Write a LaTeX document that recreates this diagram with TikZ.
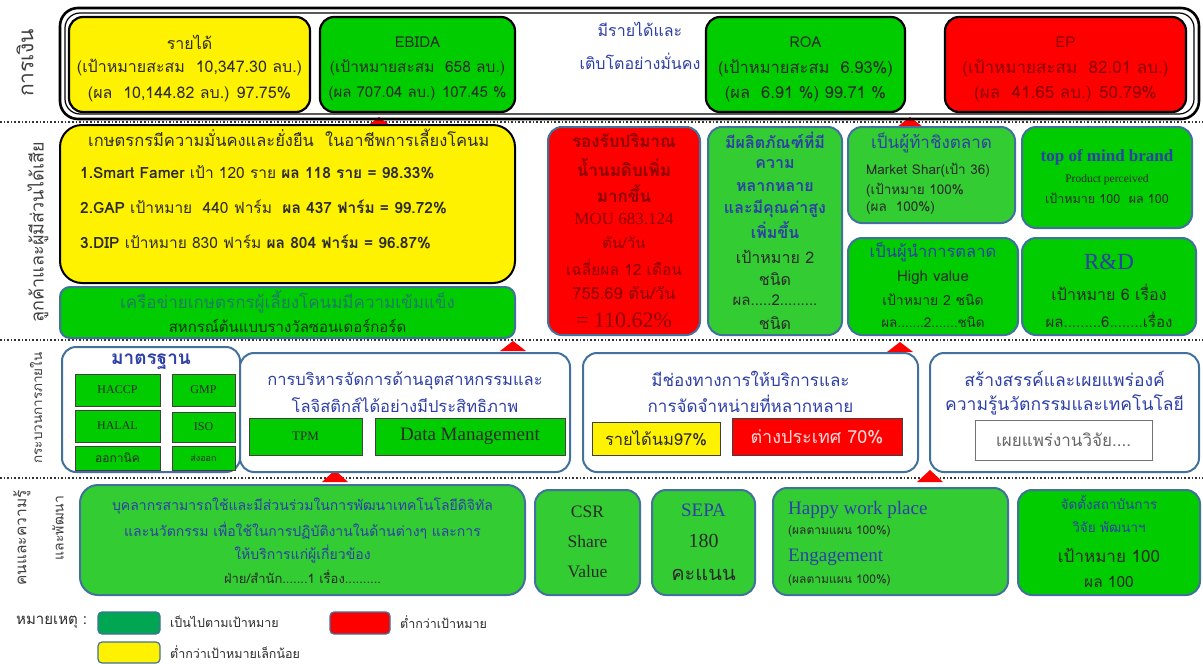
\documentclass[tikz,border=0pt]{standalone}
\usepackage{fontspec}
\setmainfont[Script=Thai]{Loma}
\newfontfamily\serifL{Liberation Serif}
\newcommand\fsz[1]{\fontsize{#1}{#1}\selectfont}
% rectangle node from its top-left and bottom-right corners
\newcommand\bx[6]{\node[#6, anchor=north west, inner sep=0pt, outer sep=0pt,
  minimum width={(#4-#2)*1pt}, minimum height={(#5-#3)*1pt}] (#1) at (#2,#3) {};}
\newcommand\marker[3]{\fill[red] (#1-13,#2) -- (#1,#3) -- (#1+13,#2) -- cycle;}
\definecolor{gbright}{HTML}{00CC00}
\definecolor{glight}{HTML}{33CC33}
\definecolor{bord}{HTML}{41719C}
\definecolor{tblue}{HTML}{2E3FA6}
\definecolor{tdark}{HTML}{2B2B2B}
\definecolor{tred}{HTML}{8B0000}
\definecolor{tteal}{HTML}{1E7A66}
\definecolor{legg}{HTML}{00A651}
\tikzset{
  finbox/.style={draw=black, line width=2.2pt, rounded corners=14pt},
  stdbox/.style={draw=bord, line width=2pt, rounded corners=14pt},
  sqbox/.style={draw=black!75, line width=0.8pt},
  sep/.style={dotted, line width=1.6pt, black!80},
  txt/.style={inner sep=0pt, text=tdark},
  lbl/.style={inner sep=0pt, text=black!75, rotate=90},
}
\begin{document}
\begin{tikzpicture}[x=1pt,y=-1pt]
\useasboundingbox (0,0) rectangle (1203,664);
\fill[white] (0,0) rectangle (1203,664);

% perspective separators
\draw[sep] (0,122) -- (1203,122);
\draw[sep] (0,340) -- (1203,340);
\draw[sep] (0,478) -- (1203,478);

% link markers between perspectives
\marker{379}{127}{117}
\marker{910}{127}{117}
\marker{513}{351}{341}
\marker{900}{352}{342}
\marker{335}{482}{470}
\marker{930}{482}{470}

% perspective labels
\node[lbl, font=\fsz{21}] (lfin) at (25,63) {การเงิน};
\node[lbl, font=\fsz{18}] (lcus) at (38,232) {ลูกค้าและผู้มีส่วนได้เสีย};
\node[lbl, font=\fsz{13.5}] (lint) at (36,408) {กระบวนการภายใน};
\node[lbl, font=\fsz{15.5}] (lppl1) at (22,538) {คนและความรู้};
\node[lbl, font=\fsz{14}] (lppl2) at (58,528) {และพัฒนา};

% ---------------- financial ----------------
\bx{finout}{60}{8}{1199}{119}{draw=black, line width=2.6pt, rounded corners=18pt}
\bx{finin}{65}{13}{1194}{114}{draw=black, line width=1.2pt, rounded corners=15pt}

\bx{rev}{69}{17}{310}{112}{finbox, fill=yellow}
\node[txt, font=\fsz{16}] (rev1) at (rev.center |- 0,42) {รายได้};
\node[txt, font=\fsz{16}] (rev2) at (rev.center |- 0,68) {(เป้าหมายสะสม~~10,347.30 ลบ.)};
\node[txt, font=\fsz{16}] (rev3) at (rev.center |- 0,94) {(ผล~~10,144.82 ลบ.) 97.75\%};

\bx{ebida}{320}{17}{515}{112}{finbox, fill=gbright}
\node[txt, font=\fsz{15}] (eb1) at (ebida.center |- 0,42) {EBIDA};
\node[txt, font=\fsz{15.5}] (eb2) at (ebida.center |- 0,68) {(เป้าหมายสะสม~~658 ลบ.)};
\node[txt, font=\fsz{15}] (eb3) at (ebida.center |- 0,94) {(ผล 707.04 ลบ.) 107.45 \%};

\node[txt, text=tblue, font=\fsz{16}] (goal1) at (640,29) {มีรายได้และ};
\node[txt, text=tblue, font=\fsz{16}] (goal2) at (640,61) {เติบโตอย่างมั่นคง};

\bx{roa}{706}{17}{905}{112}{finbox, fill=gbright}
\node[txt, font=\fsz{15}] (roa1) at (roa.center |- 0,42) {ROA};
\node[txt, font=\fsz{16.5}] (roa2) at (roa.center |- 0,68) {(เป้าหมายสะสม~~6.93\%)};
\node[txt, font=\fsz{16.5}] (roa3) at (roa.center |- 0,94) {(ผล~~6.91 \%) 99.71 \%};

\bx{ep}{945}{17}{1186}{112}{finbox, fill=red}
\node[txt, text=tred, font=\fsz{15}] (ep1) at (ep.center |- 0,42) {EP};
\node[txt, text=tred, font=\fsz{17}] (ep2) at (ep.center |- 0,68) {(เป้าหมายสะสม~~82.01 ลบ.)};
\node[txt, text=tred, font=\fsz{17}] (ep3) at (ep.center |- 0,94) {(ผล~~41.65 ลบ.) 50.79\%};

% ---------------- customers ----------------
\bx{farm}{60}{125}{515}{283}{draw=black, line width=2pt, rounded corners=22pt, fill=yellow}
\node[txt, anchor=west, font=\fsz{16.5}] (farm0) at (88,138) {เกษตรกรมีความมั่นคงและยั่งยืน~~ในอาชีพการเลี้ยงโคนม};
\node[txt, anchor=west, font=\fsz{15.5}] (farm1) at (80,172) {\textbf{1.Smart Famer} เป้า 120 ราย \textbf{ผล 118 ราย = 98.33\%}};
\node[txt, anchor=west, font=\fsz{15.5}] (farm2) at (80,207) {\textbf{2.GAP} เป้าหมาย~~440 ฟาร์ม~~\textbf{ผล 437 ฟาร์ม = 99.72\%}};
\node[txt, anchor=west, font=\fsz{15.5}] (farm3) at (80,242) {\textbf{3.DIP} เป้าหมาย 830 ฟาร์ม \textbf{ผล 804 ฟาร์ม = 96.87\%}};

\bx{net}{60}{287}{515}{338}{stdbox, rounded corners=10pt, fill=gbright}
\node[txt, text=tteal, font=\fsz{17}] (net1) at (net.center |- 0,302) {เครือข่ายเกษตรกรผู้เลี้ยงโคนมมีความเข้มแข็ง};
\node[txt, text=black!80!green, font=\fsz{15}] (net2) at (net.center |- 0,326) {สหกรณ์ต้นแบบรางวัลซอนเดอร์กอร์ด};

\bx{milk}{548}{127}{700}{335}{stdbox, fill=red}
\node[txt, text=tred, font=\bfseries\fsz{17}] (mk1) at (milk.center |- 0,141) {รองรับปริมาณ};
\node[txt, text=tred, font=\bfseries\fsz{17}] (mk2) at (milk.center |- 0,168) {น้ำนมดิบเพิ่ม};
\node[txt, text=tred, font=\bfseries\fsz{17}] (mk3) at (milk.center |- 0,194) {มากขึ้น};
\node[txt, text=tred, font=\serifL\fsz{17}] (mk4) at (milk.center |- 0,219) {MOU 683.124};
\node[txt, text=tred, font=\fsz{15}] (mk5) at (milk.center |- 0,243) {ตัน/วัน};
\node[txt, text=tred, font=\fsz{15.5}] (mk6) at (milk.center |- 0,268) {เฉลี่ยผล 12 เดือน};
\node[txt, text=tred, font=\fsz{16.5}] (mk7) at (milk.center |- 0,293) {755.69 ตัน/วัน};
\node[txt, text=tred, font=\serifL\fsz{22}] (mk8) at (milk.center |- 0,320) {= 110.62\%};

\bx{prod}{708}{127}{842}{335}{stdbox, fill=glight}
\node[txt, text=tblue, font=\bfseries\fsz{16}] (pd1) at (prod.center |- 0,140) {มีผลิตภัณฑ์ที่มี};
\node[txt, text=tblue, font=\bfseries\fsz{16}] (pd2) at (prod.center |- 0,164) {ความ};
\node[txt, text=tblue, font=\bfseries\fsz{16}] (pd3) at (prod.center |- 0,187) {หลากหลาย};
\node[txt, text=tblue, font=\bfseries\fsz{16}] (pd4) at (prod.center |- 0,209) {และมีคุณค่าสูง};
\node[txt, text=tblue, font=\bfseries\fsz{16}] (pd5) at (prod.center |- 0,230) {เพิ่มขึ้น};
\node[txt, font=\fsz{16}] (pd6) at (prod.center |- 0,257) {เป้าหมาย 2};
\node[txt, font=\fsz{16}] (pd7) at (prod.center |- 0,279) {ชนิด};
\node[txt, font=\fsz{15}] (pd8) at (prod.center |- 0,300) {ผล.....2.........};
\node[txt, font=\fsz{16}] (pd9) at (prod.center |- 0,323) {ชนิด};

\bx{chal}{848}{127}{1015}{223}{stdbox, fill=glight}
\node[txt, text=tblue, font=\fsz{17}] (ch1) at (chal.center |- 0,143) {เป็นผู้ท้าชิงตลาด};
\node[txt, anchor=west, font=\fsz{13.5}] (ch2) at (866,170) {Market Shar(เป้า 36)};
\node[txt, anchor=west, font=\fsz{13.5}] (ch3) at (866,190) {(เป้าหมาย 100\%};
\node[txt, anchor=west, font=\fsz{13.5}] (ch4) at (866,208) {(ผล~~100\%)};

\bx{tom}{1022}{127}{1192}{228}{stdbox, fill=gbright}
\node[txt, text=tblue, font=\serifL\bfseries\fsz{17}] (tm1) at (tom.center |- 0,157) {top of mind brand};
\node[txt, font=\serifL\fsz{11.5}] (tm2) at (tom.center |- 0,180) {Product perceived};
\node[txt, font=\fsz{12.5}] (tm3) at (tom.center |- 0,198) {เป้าหมาย 100~~ผล 100};

\bx{lead}{848}{238}{1018}{335}{stdbox, fill=gbright}
\node[txt, text=tblue, font=\fsz{16.5}] (ld1) at (lead.center |- 0,252) {เป็นผู้นำการตลาด};
\node[txt, font=\fsz{15}] (ld2) at (lead.center |- 0,278) {High value};
\node[txt, font=\fsz{14}] (ld3) at (lead.center |- 0,300) {เป้าหมาย 2 ชนิด};
\node[txt, font=\fsz{13.5}] (ld4) at (lead.center |- 0,322) {ผล.......2.......ชนิด};

\bx{rnd}{1022}{238}{1196}{335}{stdbox, fill=gbright}
\node[txt, text=tblue, font=\serifL\fsz{23}] (rd1) at (rnd.center |- 0,262) {R\&D};
\node[txt, font=\fsz{16}] (rd2) at (rnd.center |- 0,292) {เป้าหมาย 6 เรื่อง};
\node[txt, font=\fsz{15}] (rd3) at (rnd.center |- 0,320) {ผล.........6........เรื่อง};

% ---------------- internal processes ----------------
\bx{std}{62}{347}{240}{472}{stdbox, fill=white}
\node[txt, text=tblue, font=\bfseries\fsz{19}] (st0) at (std.center |- 0,362) {มาตรฐาน};
\bx{haccp}{75}{374}{160}{406}{sqbox, fill=gbright}
\bx{gmp}{172}{374}{235}{406}{sqbox, fill=gbright}
\bx{halal}{75}{410}{160}{442}{sqbox, fill=gbright}
\bx{iso}{172}{412}{235}{442}{sqbox, fill=gbright}
\bx{org}{75}{446}{160}{470}{sqbox, fill=gbright}
\bx{exp}{172}{446}{235}{470}{sqbox, fill=gbright}
\node[txt, font=\serifL\fsz{12}] (st1) at (haccp) {HACCP};
\node[txt, font=\serifL\fsz{12}] (st2) at (gmp) {GMP};
\node[txt, font=\serifL\fsz{12}] (st3) at (halal) {HALAL};
\node[txt, font=\serifL\fsz{12}] (st4) at (iso) {ISO};
\node[txt, font=\fsz{12}] (st5) at (org) {ออกานิค};
\node[txt, font=\fsz{9}] (st6) at (exp) {ส่งออก};

\bx{mgmt}{240}{353}{570}{472}{stdbox, fill=white}
\node[txt, text=tblue, font=\fsz{16.5}] (mg1) at (mgmt.center |- 0,381) {การบริหารจัดการด้านอุตสาหกรรมและ};
\node[txt, text=tblue, font=\fsz{16.5}] (mg2) at (mgmt.center |- 0,405) {โลจิสติกส์ได้อย่างมีประสิทธิภาพ};
\bx{tpm}{249}{418}{362}{455}{sqbox, fill=gbright}
\bx{dm}{375}{418}{565}{455}{sqbox, fill=gbright}
\node[txt, font=\serifL\fsz{13}] (tp) at (tpm) {TPM};
\node[txt, font=\serifL\fsz{19}] (dmt) at (dm) {Data Management};

\bx{chan}{583}{353}{918}{472}{stdbox, fill=white}
\node[txt, text=tblue, font=\fsz{17}] (cn1) at (chan.center |- 0,379) {มีช่องทางการให้บริการและ};
\node[txt, text=tblue, font=\fsz{17}] (cn2) at (chan.center |- 0,404) {การจัดจำหน่ายที่หลากหลาย};
\bx{milkrev}{592}{422}{720}{455}{sqbox, fill=yellow}
\bx{abroad}{732}{418}{902}{455}{sqbox, fill=red}
\node[txt, font=\fsz{16.5}] (mr) at (milkrev) {รายได้นม97\%};
\node[txt, text=red!15, font=\fsz{18}] (ab) at (abroad) {ต่างประเทศ 70\%};

\bx{know}{930}{353}{1199}{472}{stdbox, fill=white}
\node[txt, text=tblue, font=\fsz{17.5}] (kn1) at (know.center |- 0,379) {สร้างสรรค์และเผยแพร่องค์};
\node[txt, text=tblue, font=\fsz{17.5}] (kn2) at (know.center |- 0,405) {ความรู้นวัตกรรมและเทคโนโลยี};
\bx{pub}{975}{420}{1152}{460}{draw=black!55, line width=1pt, fill=white}
\node[txt, text=black!60, font=\fsz{17}] (pb) at (pub) {เผยแพร่งานวิจัย....};

% ---------------- people and learning ----------------
\bx{staff}{80}{485}{525}{595}{stdbox, rounded corners=18pt, fill=glight}
\node[txt, text=tblue, font=\fsz{14}] (sf1) at (staff.center |- 0,506) {บุคลากรสามารถใช้และมีส่วนร่วมในการพัฒนาเทคโนโลยีดิจิทัล};
\node[txt, text=tblue, font=\fsz{14}] (sf2) at (staff.center |- 0,531) {และนวัตกรรม เพื่อใช้ในการปฏิบัติงานในด้านต่างๆ และการ};
\node[txt, text=tblue, font=\fsz{14}] (sf3) at (staff.center |- 0,554) {ให้บริการแก่ผู้เกี่ยวข้อง};
\node[txt, font=\fsz{13}] (sf4) at (staff.center |- 0,577) {ฝ่าย/สำนัก.......1 เรื่อง..........};

\bx{csr}{535}{490}{640}{595}{stdbox, fill=glight}
\node[txt, font=\serifL\fsz{17.5}] (cs1) at (csr.center |- 0,512) {CSR};
\node[txt, font=\serifL\fsz{17.5}] (cs2) at (csr.center |- 0,542) {Share};
\node[txt, font=\serifL\fsz{17.5}] (cs3) at (csr.center |- 0,572) {Value};

\bx{sepa}{652}{490}{755}{595}{stdbox, fill=glight}
\node[txt, text=tblue, font=\serifL\fsz{19}] (sp1) at (sepa.center |- 0,510) {SEPA};
\node[txt, font=\serifL\fsz{20}] (sp2) at (sepa.center |- 0,541) {180};
\node[txt, font=\fsz{20}] (sp3) at (sepa.center |- 0,575) {คะแนน};

\bx{happy}{773}{488}{1008}{595}{stdbox, fill=glight}
\node[txt, anchor=west, text=tblue, font=\serifL\fsz{19}] (hp1) at (788,510) {Happy work place};
\node[txt, anchor=west, font=\fsz{12}] (hp2) at (788,531) {(ผลตามแผน 100\%)};
\node[txt, anchor=west, text=tblue, font=\serifL\fsz{19}] (hp3) at (788,557) {Engagement};
\node[txt, anchor=west, font=\fsz{12}] (hp4) at (788,580) {(ผลตามแผน 100\%)};

\bx{inst}{1018}{490}{1200}{595}{stdbox, fill=gbright}
\node[txt, text=tblue, font=\fsz{13.5}] (in1) at (inst.center |- 0,502) {จัดตั้งสถาบันการ};
\node[txt, text=tblue, font=\fsz{13.5}] (in2) at (inst.center |- 0,527) {วิจัย พัฒนาฯ};
\node[txt, font=\fsz{17}] (in3) at (inst.center |- 0,555) {เป้าหมาย 100};
\node[txt, font=\fsz{15.5}] (in4) at (inst.center |- 0,582) {ผล 100};

% ---------------- legend ----------------
\node[txt, anchor=west, font=\fsz{15}] (note) at (16,622) {หมายเหตุ :};
\bx{swg}{98}{612}{160}{634}{draw=bord, line width=1.2pt, rounded corners=4pt, fill=legg}
\node[txt, anchor=west, font=\fsz{12.5}] (lg1) at (170,622) {เป็นไปตามเป้าหมาย};
\bx{swr}{330}{612}{390}{634}{draw=bord, line width=1.2pt, rounded corners=4pt, fill=red}
\node[txt, anchor=west, font=\fsz{12.5}] (lg2) at (400,622) {ต่ำกว่าเป้าหมาย};
\bx{swy}{98}{642}{160}{663}{draw=bord, line width=1.2pt, rounded corners=4pt, fill=yellow}
\node[txt, anchor=west, font=\fsz{12.5}] (lg3) at (170,652) {ต่ำกว่าเป้าหมายเล็กน้อย};
\end{tikzpicture}
\end{document}
